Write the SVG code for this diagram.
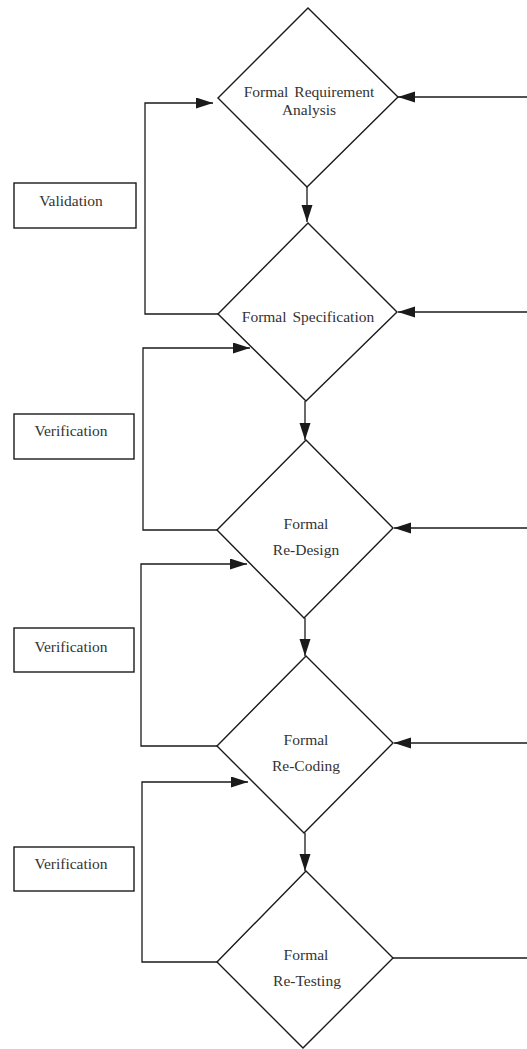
<svg xmlns="http://www.w3.org/2000/svg" width="527" height="1049" viewBox="0 0 527 1049">
  <defs>
    <marker id="arrow" markerUnits="userSpaceOnUse" markerWidth="18" markerHeight="12" refX="17" refY="5.5" orient="auto">
      <path d="M0,0 L17,5.5 L0,11 Z" fill="#1a1a1a"/>
    </marker>
    <style>
      .shape { fill: #ffffff; stroke: #1a1a1a; stroke-width: 1.4; }
      .wire { fill: none; stroke: #1a1a1a; stroke-width: 1.3; }
      .label { font-family: "Liberation Serif", "Times New Roman", serif; font-size: 15.5px; word-spacing: 2px; fill: #333333; text-anchor: middle; }
    </style>
  </defs>
  <rect width="527" height="1049" fill="#ffffff"/>

  <!-- connectors -->
  <g id="connectors">
    <!-- main downward flow -->
    <path class="wire" d="M307,187 V222" marker-end="url(#arrow)"/>
    <path class="wire" d="M305,401 V440" marker-end="url(#arrow)"/>
    <path class="wire" d="M305,618 V656" marker-end="url(#arrow)"/>
    <path class="wire" d="M305,833 V871" marker-end="url(#arrow)"/>
    <!-- left feedback loops -->
    <path class="wire" d="M218,314 H145 V103 H213" marker-end="url(#arrow)"/>
    <path class="wire" d="M217,530 H143 V348 H250" marker-end="url(#arrow)"/>
    <path class="wire" d="M217,746 H141 V564 H247" marker-end="url(#arrow)"/>
    <path class="wire" d="M217,962 H142 V782 H248" marker-end="url(#arrow)"/>
    <!-- right side returns -->
    <path class="wire" d="M527,97 H398" marker-end="url(#arrow)"/>
    <path class="wire" d="M527,312 H398" marker-end="url(#arrow)"/>
    <path class="wire" d="M527,528 H394" marker-end="url(#arrow)"/>
    <path class="wire" d="M527,743 H394" marker-end="url(#arrow)"/>
    <path class="wire" d="M393,958 H527"/>
  </g>

  <!-- process diamonds -->
  <g id="requirement-analysis">
    <polygon class="shape" points="308,8 398,97 307,187 218,98"/>
    <text class="label" x="309" y="97">Formal Requirement</text>
    <text class="label" x="309" y="115">Analysis</text>
  </g>
  <g id="specification">
    <polygon class="shape" points="308,223 397,312 306,401 218,314"/>
    <text class="label" x="308" y="322">Formal Specification</text>
  </g>
  <g id="re-design">
    <polygon class="shape" points="306,440 393,528 304,618 217,530"/>
    <text class="label" x="306" y="529">Formal</text>
    <text class="label" x="306" y="555">Re-Design</text>
  </g>
  <g id="re-coding">
    <polygon class="shape" points="306,656 393,743 304,833 217,746"/>
    <text class="label" x="306" y="745">Formal</text>
    <text class="label" x="306" y="771">Re-Coding</text>
  </g>
  <g id="re-testing">
    <polygon class="shape" points="306,871 393,958 303,1048 217,962"/>
    <text class="label" x="306" y="960">Formal</text>
    <text class="label" x="307" y="986">Re-Testing</text>
  </g>

  <!-- side check boxes -->
  <g id="validation">
    <rect class="shape" x="14" y="183" width="122" height="45"/>
    <text class="label" x="71" y="206">Validation</text>
  </g>
  <g id="verification-1">
    <rect class="shape" x="14" y="414" width="120" height="45"/>
    <text class="label" x="71" y="436">Verification</text>
  </g>
  <g id="verification-2">
    <rect class="shape" x="14" y="628" width="120" height="44"/>
    <text class="label" x="71" y="652">Verification</text>
  </g>
  <g id="verification-3">
    <rect class="shape" x="14" y="847" width="120" height="44"/>
    <text class="label" x="71" y="869">Verification</text>
  </g>
</svg>
